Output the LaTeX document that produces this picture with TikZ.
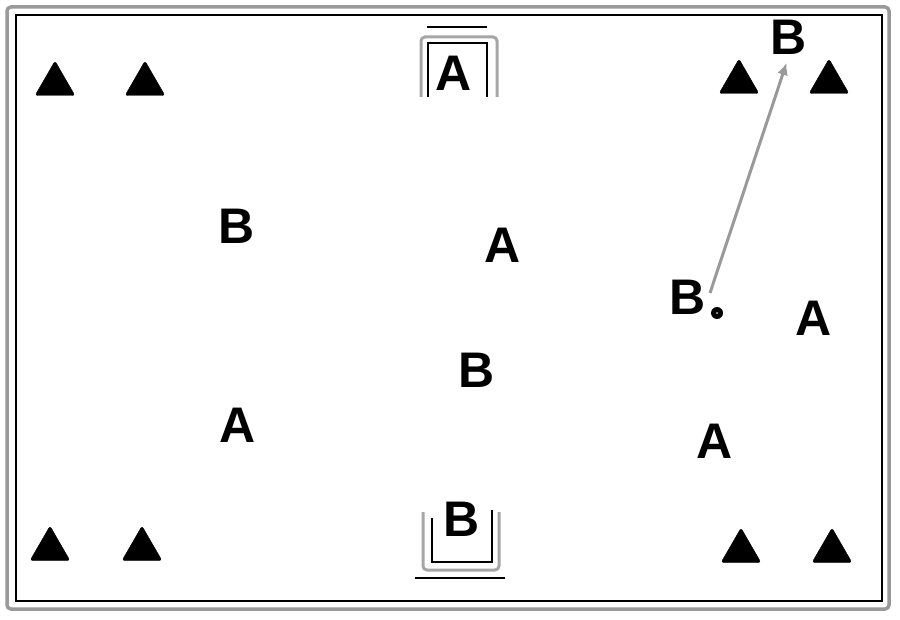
\documentclass[tikz,border=0pt]{standalone}
\usepackage{fontspec}
\setmainfont{Liberation Sans}
\usepackage{tikz}
\usetikzlibrary{shapes.geometric,arrows.meta}

\begin{document}
\begin{tikzpicture}[x=1pt,y=-1pt,
		cone/.style={regular polygon, regular polygon sides=3, fill=black, draw=black, rounded corners=2.5pt, inner sep=0pt, minimum size=46pt},
		player/.style={inner sep=1pt, font=\fontsize{50}{50}\selectfont\bfseries}]
		\fill[white] (0,0) rectangle (900,620);
		\useasboundingbox (0,0) rectangle (900,620);
		% field
		\draw[gray!80, line width=3.5pt, rounded corners=4pt] (7,7) rectangle (889,609);
		\draw[black, line width=1.5pt] (16,15) rectangle (882,601);
		% goals
		\draw[gray!70, line width=3pt, rounded corners=4pt] (421,97) -- (421,37) -- (497,37) -- (497,97);
		\draw[black, line width=1.2pt] (428,97) -- (428,43) -- (487,43) -- (487,97);
		\draw[black, line width=2pt] (427,27) -- (487,27);
		\draw[gray!70, line width=3pt, rounded corners=4pt] (423,512) -- (423,570) -- (499,570) -- (499,512);
		\draw[black, line width=1.2pt] (432,518) -- (432,562) -- (492,562) -- (492,510);
		\draw[black, line width=1.2pt] (415,578) -- (505,578);
		% cones
		\foreach \x/\y/\alph in {
			55/84/c1,
			145/84/c2,
			739/82/c3,
			829/82/c4,
			50/549/c5,
			142/549/c6,
			741/551/c7,
			832/551/c8
		}{
			\node[cone] (\alph) at (\x,\y) {};
		}
		% players
		\foreach \x/\y/\alph/\name in {
			454/73/A1/A,
			503/245/A2/A,
			814/318/A3/A,
			238/425/A4/A,
			715/441/A5/A,
			789/37/B1/B,
			237/226/B2/B,
			688/297/B3/B,
			477/370/B4/B,
			462/519/B5/B
		}{
			\node[player] (\alph) at (\x,\y) {\name};
		}
		\node[circle, fill=black, inner sep=0pt, minimum size=12pt] (ball) at (717,313) {};
		\fill[white] (ball.center) circle (0.8pt);
		\coordinate (pass) at (710,293);
		\draw[gray!80, line width=3pt, -{Latex[length=12pt,width=11pt]}, shorten >=8pt] (pass) -- (B1.south);
\end{tikzpicture}
\end{document}
